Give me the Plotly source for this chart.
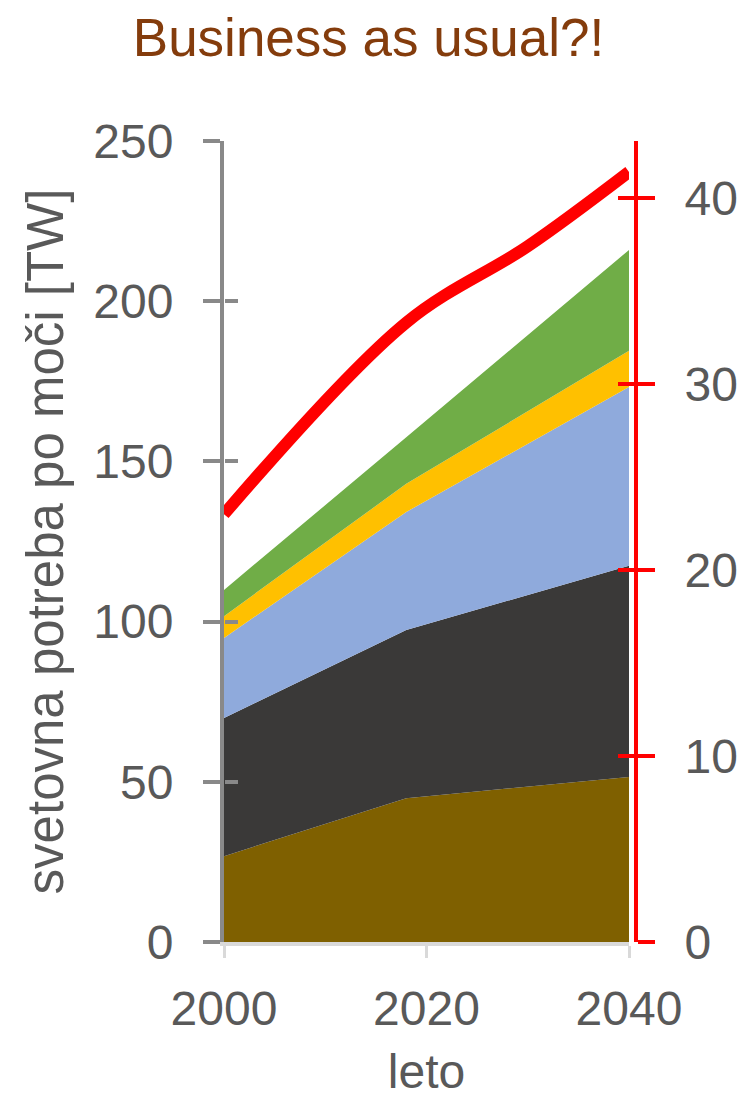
import plotly.graph_objects as go

# Years and stacked power demand components [TW]
years = [2000, 2018, 2040]
brown_layer = [26.8, 44.9, 51.5]
dark_layer = [43.1, 52.5, 65.9]
blue_layer = [25.0, 36.8, 55.8]
yellow_layer = [6.8, 8.8, 11.3]
green_layer = [8.2, 14.5, 31.5]

# Red series on the secondary (right) axis
red_years = [2000, 2018, 2030, 2040]
red_values = [23.0, 33.3, 37.4, 41.4]

left_ticks = [0, 50, 100, 150, 200, 250]
right_ticks = [0, 10, 20, 30, 40]
x_ticks = [2000, 2020, 2040]

FONT = "Liberation Sans"
GREY_TEXT = "#595959"
AXIS_GREY = "#898989"
RED = "#FF0000"

layers = [
    (brown_layer, "#7F6000"),
    (dark_layer, "#3A3938"),
    (blue_layer, "#8FAADC"),
    (yellow_layer, "#FFC000"),
    (green_layer, "#70AD47"),
]

fig = go.Figure()
for values, color in layers:
    fig.add_trace(go.Scatter(
        x=years, y=values, stackgroup="demand", mode="lines",
        line=dict(width=0, color=color), fillcolor=color,
        hoverinfo="skip", showlegend=False,
    ))

fig.add_trace(go.Scatter(
    x=red_years, y=red_values, yaxis="y2", mode="lines",
    line=dict(color=RED, width=12, shape="spline", smoothing=1.0),
    showlegend=False,
))

# empty traces so the inner-tick companion axes get drawn
fig.add_trace(go.Scatter(x=[], y=[], yaxis="y3", showlegend=False))
fig.add_trace(go.Scatter(x=[], y=[], yaxis="y4", showlegend=False))

W, H = 749, 1098
ml, mr, mt, mb = 224, 113, 141, 156
plot_w = W - ml - mr
x_dom_end = 405 / plot_w

tick_font = dict(family=FONT, size=48, color=GREY_TEXT)

fig.update_layout(
    width=W, height=H,
    margin=dict(l=ml, r=mr, t=mt, b=mb, pad=0, autoexpand=False),
    paper_bgcolor="white", plot_bgcolor="white",
    showlegend=False,
    title=dict(
        text="Business as usual?!",
        font=dict(family=FONT, size=53, color="#843C0C"),
        x=368.5 / W, xanchor="center", xref="container",
        y=1 - 37 / H, yanchor="middle", yref="container",
    ),
    xaxis=dict(
        domain=[0, x_dom_end], range=[2000, 2040], automargin=False,
        tickvals=x_ticks, ticks="outside", ticklen=12, tickwidth=3,
        tickcolor="#D9D9D9", showline=True, linecolor="#D9D9D9", linewidth=4,
        showgrid=False, zeroline=False, tickfont=tick_font,
        ticklabelstandoff=9,
        title=dict(text="leto", font=dict(family=FONT, size=48, color=GREY_TEXT),
                   standoff=24),
    ),
    yaxis=dict(
        range=[0, 250], tickvals=left_ticks, ticks="outside", ticklen=17,
        tickwidth=4, tickcolor=AXIS_GREY, showline=True, linecolor=AXIS_GREY,
        linewidth=4, showgrid=False, zeroline=False, tickfont=tick_font,
        ticklabelstandoff=20, automargin=False,
        title=dict(text="svetovna potreba po moči [TW]",
                   font=dict(family=FONT, size=51, color=GREY_TEXT), standoff=14),
    ),
    yaxis2=dict(
        range=[0, 43.06], tickvals=right_ticks, overlaying="y", side="right",
        anchor="free", position=1.0, automargin=False,
        ticks="outside", ticklen=17, tickwidth=4, tickcolor=RED,
        showline=True, linecolor=RED, linewidth=4, showgrid=False,
        zeroline=False, tickfont=tick_font, ticklabelstandoff=20,
    ),
    yaxis3=dict(
        range=[0, 250], tickvals=left_ticks[1:], overlaying="y", side="left",
        anchor="free", position=0.0, automargin=False,
        ticks="inside", ticklen=13, tickwidth=4, tickcolor=AXIS_GREY,
        showline=False, showgrid=False, zeroline=False, showticklabels=False,
    ),
    yaxis4=dict(
        range=[0, 43.06], tickvals=right_ticks[1:], overlaying="y", side="right",
        anchor="free", position=1.0, automargin=False,
        ticks="inside", ticklen=18, tickwidth=4, tickcolor=RED,
        showline=False, showgrid=False, zeroline=False, showticklabels=False,
    ),
)

fig.write_html("out.html")
